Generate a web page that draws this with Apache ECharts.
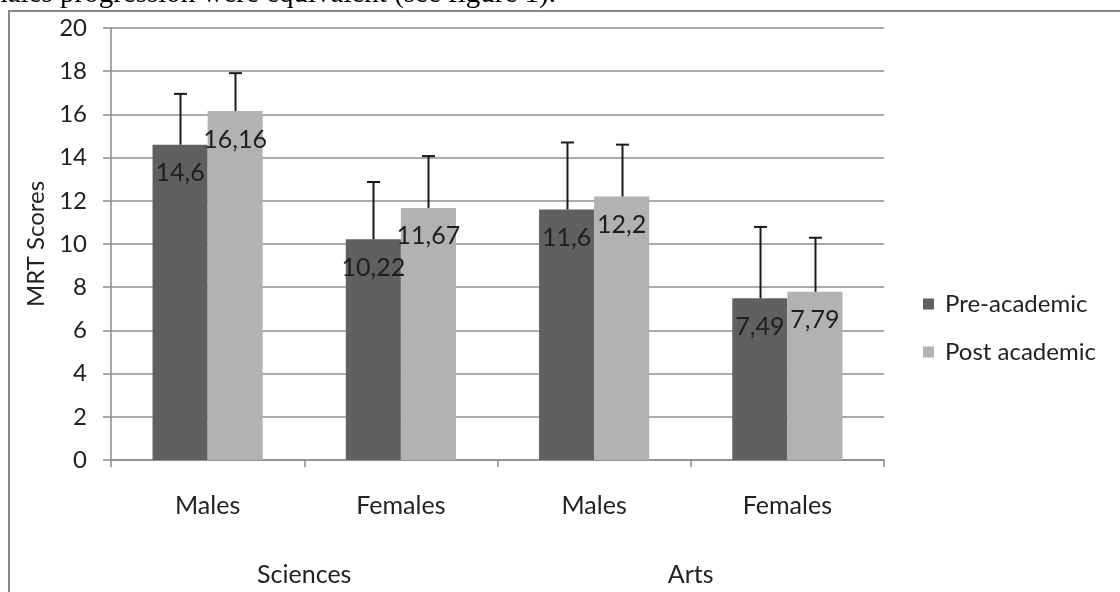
<!DOCTYPE html>
<html>
<head>
<meta charset="utf-8">
<script src="https://cdn.jsdelivr.net/npm/echarts@6/dist/echarts.min.js"></script>
<style>
html,body{margin:0;padding:0;background:#fff;}
#chart{width:1120px;height:592px;}
</style>
</head>
<body>
<div id="chart"></div>
<script>
var categories = ["Males", "Females", "Males", "Females"];
var groups = ["Sciences", "Arts"];
var seriesNames = ["Pre-academic", "Post academic"];
var preValues = [14.6, 10.22, 11.6, 7.49];
var postValues = [16.16, 11.67, 12.2, 7.79];
var preErrors = [2.35, 2.65, 3.1, 3.3];
var postErrors = [1.75, 2.4, 2.4, 2.5];
var yTicks = [0, 2, 4, 6, 8, 10, 12, 14, 16, 18, 20];

var colors = ["#606060", "#b2b2b2"];
var FONT = "Lato";
var GAP = 0.43;

function fmt(v) { return String(v).replace(".", ","); }

function errData(vals, errs) {
  return vals.map(function (v, i) { return [i, v, v + errs[i]]; });
}

function makeErr(seriesIndex) {
  return function (params, api) {
    var i = api.value(0);
    var base = api.coord([i, api.value(1)]);
    var top = api.coord([i, api.value(2)]);
    var catW = api.size([1, 0])[0];
    var barW = catW * (1 - GAP) / 2;
    var x = base[0] + (seriesIndex === 0 ? -barW / 2 : barW / 2);
    x = Math.round(x) + 0.5;
    var cap = 6.5;
    return {
      type: "group",
      children: [
        { type: "line", shape: { x1: x, y1: base[1], x2: x, y2: top[1] }, style: { stroke: "#1a1a1a", lineWidth: 2 } },
        { type: "line", shape: { x1: x - cap, y1: top[1], x2: x + cap, y2: top[1] }, style: { stroke: "#1a1a1a", lineWidth: 2 } }
      ]
    };
  };
}

var chart = echarts.init(document.getElementById("chart"));
chart.setOption({
  animation: false,
  textStyle: { fontFamily: FONT },
  graphic: [
    { type: "text", x: 556, y: -6, style: { text: "females progression were equivalent (see figure 1).", font: "29px 'Liberation Serif'", fill: "#000", align: "right", verticalAlign: "middle" } },
    { type: "polyline", shape: { points: [[9, 600], [9, 11], [1125, 11]] }, style: { stroke: "#8a8a8a", lineWidth: 2, fill: null } }
  ],
  grid: { left: 111, top: 28, right: 236, bottom: 132, containLabel: false },
  legend: {
    orient: "vertical",
    left: 918,
    top: 287,
    itemWidth: 11,
    itemHeight: 11,
    itemGap: 24,
    icon: "rect",
    data: seriesNames,
    textStyle: { fontFamily: FONT, fontSize: 24, color: "#222", padding: [0, 0, 0, 6] }
  },
  xAxis: [
    {
      type: "category",
      data: categories,
      axisLine: { lineStyle: { color: "#8a8a8a", width: 1.5 } },
      axisTick: { show: true, length: 7, alignWithLabel: false, lineStyle: { color: "#8a8a8a", width: 1.5 } },
      axisLabel: { margin: 33, fontSize: 25, color: "#222", fontFamily: FONT }
    },
    {
      type: "category",
      data: groups,
      position: "bottom",
      axisLine: { show: false },
      axisTick: { show: false },
      axisLabel: { margin: 102, fontSize: 25, color: "#222", fontFamily: FONT }
    }
  ],
  yAxis: {
    type: "value",
    min: 0,
    max: 20,
    interval: 2,
    name: "MRT Scores",
    nameLocation: "middle",
    nameGap: 61,
    nameTextStyle: { fontSize: 24, color: "#222", fontFamily: FONT },
    axisLine: { show: true, lineStyle: { color: "#8a8a8a", width: 1.5 } },
    axisTick: { show: true, length: 8, lineStyle: { color: "#8a8a8a", width: 1.5 } },
    axisLabel: { margin: 24, fontSize: 24, color: "#222", fontFamily: FONT,
      formatter: function (v) { return yTicks.indexOf(v) >= 0 ? String(v) : ""; } },
    splitLine: { show: true, lineStyle: { color: "#8f8f8f", width: 1.5 } }
  },
  series: [
    {
      name: seriesNames[0], type: "bar", data: preValues, barGap: "0%", barCategoryGap: (GAP * 100) + "%",
      itemStyle: { color: colors[0] }, z: 2,
      label: { show: true, position: "insideTop", distance: 16, fontSize: 25, color: "#1e1e1e", fontFamily: FONT,
        formatter: function (p) { return fmt(p.value); } }
    },
    {
      name: seriesNames[1], type: "bar", data: postValues, barGap: "0%", barCategoryGap: (GAP * 100) + "%",
      itemStyle: { color: colors[1] }, z: 2,
      label: { show: true, position: "insideTop", distance: 16, fontSize: 25, color: "#1e1e1e", fontFamily: FONT,
        formatter: function (p) { return fmt(p.value); } }
    },
    { type: "custom", renderItem: makeErr(0), data: errData(preValues, preErrors), encode: { x: 0, y: [1, 2] }, z: 3, silent: true },
    { type: "custom", renderItem: makeErr(1), data: errData(postValues, postErrors), encode: { x: 0, y: [1, 2] }, z: 3, silent: true }
  ]
});
</script>
</body>
</html>
